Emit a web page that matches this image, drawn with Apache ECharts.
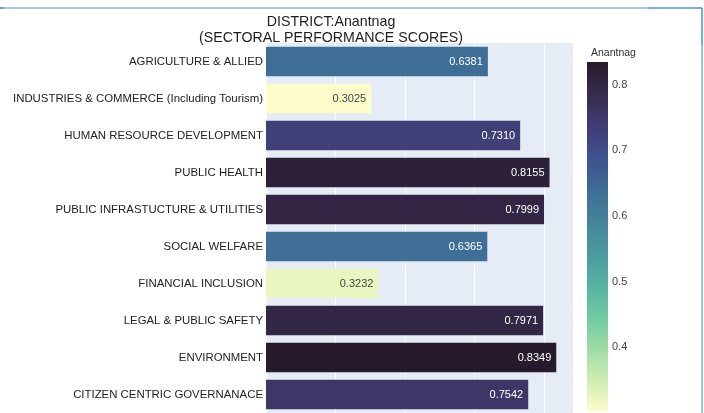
<!DOCTYPE html>
<html>
<head>
<meta charset="utf-8">
<script src="https://cdn.jsdelivr.net/npm/echarts@6/dist/echarts.min.js"></script>
<style>
  html, body { margin: 0; padding: 0; background: #ffffff; }
  #chart { width: 704px; height: 413px; }
</style>
</head>
<body>
<div id="chart"></div>
<script>
// Sector names (top to bottom) and their performance scores
const sectors = [
  'AGRICULTURE & ALLIED',
  'INDUSTRIES & COMMERCE (Including Tourism)',
  'HUMAN RESOURCE DEVELOPMENT',
  'PUBLIC HEALTH',
  'PUBLIC INFRASTUCTURE & UTILITIES',
  'SOCIAL WELFARE',
  'FINANCIAL INCLUSION',
  'LEGAL & PUBLIC SAFETY',
  'ENVIRONMENT',
  'CITIZEN CENTRIC GOVERNANACE'
];
const scores = [0.6381, 0.3025, 0.7310, 0.8155, 0.7999, 0.6365, 0.3232, 0.7971, 0.8349, 0.7542];

// Colour bar tick labels
const colorbarTicks = [0.4, 0.5, 0.6, 0.7, 0.8];

const districtName = 'Anantnag';

// "deep" sequential scale, light (low) to dark (high)
const deepScale = [
  'rgb(253,253,204)', 'rgb(206,236,179)', 'rgb(156,219,165)', 'rgb(111,201,163)',
  'rgb(86,177,163)', 'rgb(76,153,160)', 'rgb(68,130,155)', 'rgb(62,108,150)',
  'rgb(62,82,143)', 'rgb(64,60,115)', 'rgb(54,43,77)', 'rgb(39,26,44)'
];

const lo = Math.min(...scores);
const hi = Math.max(...scores);

const chart = echarts.init(document.getElementById('chart'), null, { renderer: 'canvas' });

const gradientStops = deepScale.slice().reverse().map((c, i, a) => ({
  offset: i / (a.length - 1), color: c
}));

const FONT = 'Liberation Sans, Arial, sans-serif';

const option = {
  backgroundColor: '#ffffff',
  animation: false,
  textStyle: { fontFamily: FONT },
  title: [
    {
      text: 'DISTRICT:' + districtName + '\n(SECTORAL PERFORMANCE SCORES)',
      left: 326, top: 9, textAlign: 'center',
      textStyle: { fontSize: 14.2, fontWeight: 'normal', color: '#1e1e1e', lineHeight: 16,
                   fontFamily: FONT }
    },
    {
      text: districtName,
      left: 586, top: 43,
      textStyle: { fontSize: 10.5, fontWeight: 'normal', color: '#333', fontFamily: FONT }
    }
  ],
  visualMap: {
    type: 'continuous', show: false, seriesIndex: 0, dimension: 0,
    min: lo, max: hi,
    inRange: { color: deepScale }
  },
  grid: [
    { left: 266, top: 43, width: 307, height: 372, show: true,
      backgroundColor: '#E5ECF6', borderWidth: 0 },
    { left: 587, top: 62, width: 21, height: 349, show: false }
  ],
  xAxis: [
    { gridIndex: 0, type: 'value', min: 0, max: 0.883, interval: 0.2,
      axisLabel: { show: false }, axisLine: { show: false }, axisTick: { show: false },
      splitLine: { show: true, lineStyle: { color: '#ffffff', width: 1 } } },
    { gridIndex: 1, type: 'category', data: ['cb'], show: false }
  ],
  yAxis: [
    { gridIndex: 0, type: 'category', data: sectors, inverse: true,
      axisLine: { show: false }, axisTick: { show: false },
      axisLabel: { fontSize: 11.4, color: '#222', margin: 3, fontFamily: FONT } },
    { gridIndex: 1, type: 'value', min: lo, max: hi, position: 'right',
      axisLine: { show: false }, axisTick: { show: false }, splitLine: { show: false },
      axisLabel: { customValues: colorbarTicks, fontSize: 11, color: '#444', margin: 4,
                   formatter: v => v.toFixed(1), fontFamily: FONT } }
  ],
  series: [
    {
      type: 'bar', xAxisIndex: 0, yAxisIndex: 0,
      barCategoryGap: '20%',
      data: scores.map((v, i) => ({
        value: [v, sectors[i]],
        label: { color: v < 0.5 ? '#444444' : '#ffffff' }
      })),
      label: {
        show: true, position: 'insideRight', distance: 5,
        fontSize: 11, fontFamily: FONT,
        formatter: p => p.value[0].toFixed(4)
      }
    },
    // colour bar: transparent base up to the lowest score, gradient above it
    {
      type: 'bar', xAxisIndex: 1, yAxisIndex: 1, stack: 'cb', barWidth: '100%',
      silent: true, data: [lo], itemStyle: { color: 'rgba(0,0,0,0)' }
    },
    {
      type: 'bar', xAxisIndex: 1, yAxisIndex: 1, stack: 'cb', barWidth: '100%',
      silent: true, data: [hi - lo],
      itemStyle: { color: new echarts.graphic.LinearGradient(0, 0, 0, 1, gradientStops) }
    }
  ],
  graphic: [
    { type: 'line', shape: { x1: 0, y1: 8, x2: 648, y2: 8 },
      style: { stroke: '#8fb6d6', lineWidth: 1.5 } },
    { type: 'line', shape: { x1: 0, y1: 8, x2: 4, y2: 8 },
      style: { stroke: '#4a8fdc', lineWidth: 1.5 } },
    { type: 'line', shape: { x1: 648, y1: 8, x2: 702, y2: 8 },
      style: { stroke: '#4a90e0', lineWidth: 1.5 } },
    { type: 'line', shape: { x1: 702, y1: 8, x2: 702, y2: 45 },
      style: { stroke: '#4a90e0', lineWidth: 1.5 } },
    { type: 'line', shape: { x1: 702, y1: 45, x2: 702, y2: 413 },
      style: { stroke: '#7fb0e0', lineWidth: 1.5 } }
  ]
};

chart.setOption(option);
</script>
</body>
</html>
